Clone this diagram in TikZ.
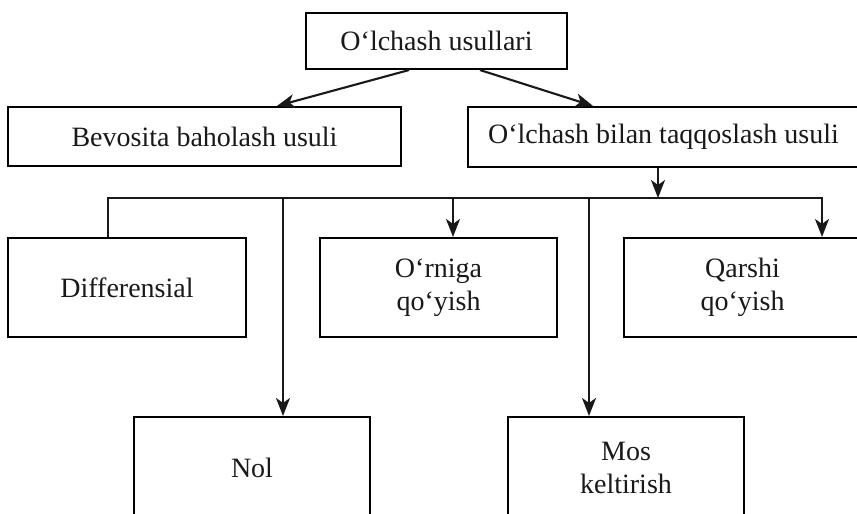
\documentclass[tikz,border=0pt]{standalone}
\usepackage{fontspec}
\setmainfont{Liberation Serif}
\usetikzlibrary{arrows.meta}

\tikzset{
  box/.style={draw, line width=2.1pt, align=center, inner sep=0pt,
              font=\fontsize{28}{33.5}\selectfont, text=black!90},
  ln/.style={line width=2.1pt, draw=black!90},
  arr/.style={ln, -{Stealth[length=18pt, width=14pt, inset=5pt]}},
}

\begin{document}
\begin{tikzpicture}[x=1pt, y=-1pt]
  \useasboundingbox (0,0) rectangle (857,514);
  \clip (0,0) rectangle (857,514);
  \fill[white] (0,0) rectangle (857,514);

  % first level
  \node[box, minimum width=261pt, minimum height=56pt] (top) at (436.5,41) {O‘lchash usullari};
  \node[box, minimum width=393pt, minimum height=59pt] (bev) at (204.5,136.5) {Bevosita baholash usuli};
  \node[box, minimum width=391pt, minimum height=60pt] (olb) at (663.5,137) {O‘lchash bilan taqqoslash usuli};

  % second level
  \node[box, minimum width=238pt, minimum height=99pt] (dif) at (127,287.5) {Differensial};
  \node[box, minimum width=237pt, minimum height=99pt] (orn) at (438.5,287.5) {O‘rniga\\qo‘yish};
  \node[box, minimum width=237pt, minimum height=99pt] (qar) at (742.5,287.5) {Qarshi\\qo‘yish};

  % third level
  \node[box, minimum width=236pt, minimum height=102pt] (nol) at (252,468) {Nol};
  \node[box, minimum width=236pt, minimum height=102pt] (mos) at (626,468) {Mos\\keltirish};

  % branch points on the distribution line
  \coordinate (b0) at (658,198);
  \coordinate (b1) at (108,198);
  \coordinate (b2) at (283,198);
  \coordinate (b3) at (453,198);
  \coordinate (b4) at (589,198);
  \coordinate (b5) at (822,198);

  % top splits
  \draw[arr] ([xshift=-27.5pt]top.south) -- ([xshift=72.5pt]bev.north);
  \draw[arr] ([xshift=43.5pt]top.south) -- ([xshift=-70.5pt]olb.north);

  % feed into the distribution line
  \draw[arr] (olb.south -| b0) -- (b0);

  % distribution line, Differensial branch and Qarshi branch
  \draw[arr] (dif.north -| b1) |- (b5) -- (qar.north -| b5);
  \draw[arr] (b3) -- (orn.north -| b3);
  \draw[arr] (b2) -- (nol.north -| b2);
  \draw[arr] (b4) -- (mos.north -| b4);
\end{tikzpicture}
\end{document}
